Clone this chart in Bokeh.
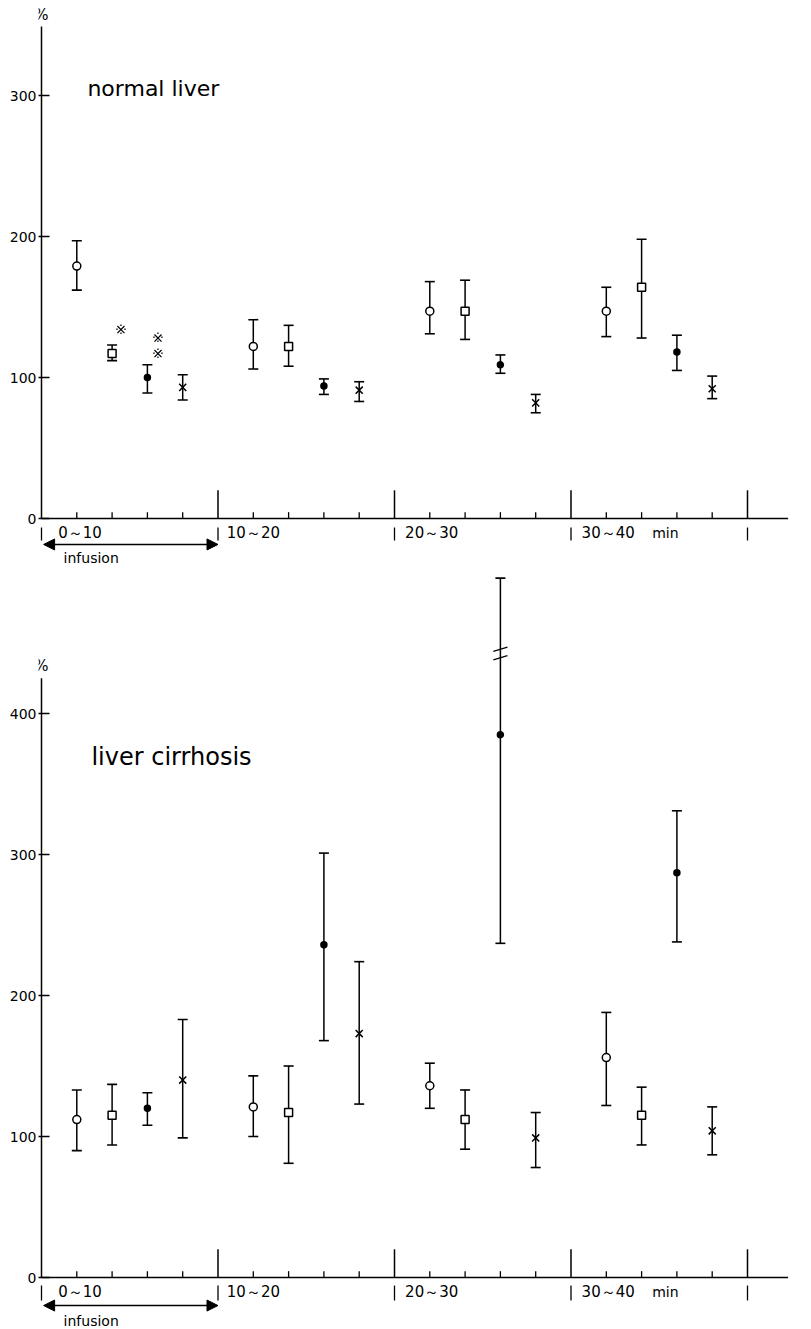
from bokeh.plotting import figure
from bokeh.layouts import column
from bokeh.models import FixedTicker, Arrow, NormalHead, Label
from bokeh.core.properties import value
from bokeh.embed import file_html
from bokeh.resources import INLINE

# ---------------- data ----------------
min_circle = [2, 12, 22, 32]
min_square = [4, 14, 24, 34]
min_dot = [6, 16, 26, 36]
min_cross = [8, 18, 28, 38]

# normal liver
n_circle = [179, 122, 147, 147]
n_circle_hi = [197, 141, 168, 164]
n_circle_lo = [162, 106, 131, 129]
n_square = [117, 122, 147, 164]
n_square_hi = [123, 137, 169, 198]
n_square_lo = [112, 108, 127, 128]
n_dot = [100, 94, 109, 118]
n_dot_hi = [109, 99, 116, 130]
n_dot_lo = [89, 88, 103, 105]
n_cross = [93, 91, 82, 92]
n_cross_hi = [102, 97, 88, 101]
n_cross_lo = [84, 83, 75, 85]

# liver cirrhosis
c_circle = [112, 121, 136, 156]
c_circle_hi = [133, 143, 152, 188]
c_circle_lo = [90, 100, 120, 122]
c_square = [115, 117, 112, 115]
c_square_hi = [137, 150, 133, 135]
c_square_lo = [94, 81, 91, 94]
c_dot = [120, 236, 385, 287]
c_dot_hi = [131, 301, 496, 331]
c_dot_lo = [108, 168, 237, 238]
c_cross = [140, 173, 99, 104]
c_cross_hi = [183, 224, 117, 121]
c_cross_lo = [99, 123, 78, 87]

period_starts = [0, 10, 20, 30, 40]
minor_ticks = [2, 4, 6, 8, 12, 14, 16, 18, 22, 24, 26, 28, 32, 34, 36, 38]
period_labels = ["0～10", "10～20", "20～30", "30～40"]
period_label_x = [0.95, 10.5, 20.6, 30.6]

# significance marks (normal liver)
sig_x = [4.5, 6.6, 6.6]
sig_y = [134, 128, 117]

FONT = "DejaVu Sans"
W = 811
PX_PER_MIN = 17.65
PX_PER_UNIT = 1.41
LEFT = 41
PAD = 3  # pixels of frame left of the value-axis line


def make_panel(height, zero_px, yticks, axis_top, title, title_xy, title_size, label_y,
               mark_y0, mark_y1, arrow_y, infusion_y, series):
    border = LEFT - PAD
    x_start = -PAD / PX_PER_MIN
    x_end = (W - LEFT) / PX_PER_MIN
    y_end = zero_px / PX_PER_UNIT
    y_start = -(height - zero_px) / PX_PER_UNIT
    p = figure(width=W, height=height, x_range=(x_start, x_end),
               y_range=(y_start, y_end), output_backend="svg",
               toolbar_location=None, min_border_left=border, min_border_right=0,
               min_border_top=0, min_border_bottom=0, x_axis_location=None)
    p.outline_line_color = None
    p.xgrid.visible = False
    p.ygrid.visible = False
    p.background_fill_color = "white"
    p.border_fill_color = "white"
    ax = p.yaxis[0]
    ax.ticker = FixedTicker(ticks=yticks)
    ax.axis_line_color = None
    ax.major_tick_in = 8 + PAD
    ax.major_tick_out = 0
    ax.major_tick_line_width = 1.5
    ax.minor_tick_line_color = None
    ax.major_label_standoff = 2
    ax.major_label_text_font = FONT
    ax.major_label_text_font_size = "14px"
    ax.major_label_text_color = "black"

    # axis lines
    p.segment(x0=[0], y0=[0], x1=[0], y1=[axis_top], line_color="black", line_width=1.5)
    p.segment(x0=[0], y0=[0], x1=[42.3], y1=[0], line_color="black", line_width=1.5)
    p.add_layout(Label(x=0, y=axis_top + 2, text="%", text_align="center",
                       text_baseline="bottom", text_font=FONT, text_font_size="15px",
                       text_color="black"))
    # minor ticks on x axis
    p.segment(x0=minor_ticks, y0=[0] * len(minor_ticks), x1=minor_ticks,
              y1=[4.5] * len(minor_ticks), line_color="black", line_width=1.3)
    # period separators
    seps = period_starts[1:]
    p.segment(x0=seps, y0=[0] * 4, x1=seps, y1=[20] * 4, line_color="black", line_width=1.5)
    p.segment(x0=period_starts, y0=[mark_y0] * 5, x1=period_starts, y1=[mark_y1] * 5,
              line_color="black", line_width=1.3)
    # period labels
    p.text(x=period_label_x, y=[label_y] * 4, text=period_labels,
           text_baseline="middle", text_font=value(FONT), text_font_size="15px",
           text_color="black")
    p.text(x=[34.6], y=[label_y], text=["min"], text_baseline="middle",
           text_font=value(FONT), text_font_size="14px", text_color="black")
    # infusion arrow
    p.add_layout(Arrow(x_start=0.12, y_start=arrow_y, x_end=10, y_end=arrow_y,
                       line_width=1.5, line_color="black",
                       start=NormalHead(size=11, fill_color="black", line_color="black"),
                       end=NormalHead(size=11, fill_color="black", line_color="black")))
    p.text(x=[1.25], y=[infusion_y], text=["infusion"], text_baseline="middle",
           text_font=value(FONT), text_font_size="14px", text_color="black")
    # title
    p.text(x=[title_xy[0]], y=[title_xy[1]], text=[title], text_baseline="alphabetic",
           text_font=value(FONT), text_font_size=title_size, text_color="black")

    for xs, ys, hi, lo, marker, size, fill in series:
        p.segment(x0=xs, y0=lo, x1=xs, y1=hi, line_color="black", line_width=1.5)
        p.scatter(x=xs + xs, y=hi + lo, marker="dash", size=10, line_color="black",
                  line_width=1.6)
        p.scatter(x=xs, y=ys, marker=marker, size=size, line_color="black",
                  fill_color=fill, line_width=1.5)
    return p


top_series = [
    (min_circle, n_circle, n_circle_hi, n_circle_lo, "circle", 8, "white"),
    (min_square, n_square, n_square_hi, n_square_lo, "square", 8, "white"),
    (min_dot, n_dot, n_dot_hi, n_dot_lo, "circle", 6, "black"),
    (min_cross, n_cross, n_cross_hi, n_cross_lo, "x", 10, None),
]
bot_series = [
    (min_circle, c_circle, c_circle_hi, c_circle_lo, "circle", 8, "white"),
    (min_square, c_square, c_square_hi, c_square_lo, "square", 8, "white"),
    (min_dot, c_dot, c_dot_hi, c_dot_lo, "circle", 6, "black"),
    (min_cross, c_cross, c_cross_hi, c_cross_lo, "x", 10, None),
]

H1 = 568
p1 = make_panel(H1, 518, [0, 100, 200, 300], 349, "normal liver", (2.6, 305), "22px",
                -10.0, -6.4, -15.6, -18.4, -28.0, top_series)
# significance marks drawn as x with four dots
p1.scatter(x=sig_x, y=sig_y, marker="x", size=10, line_color="black", line_width=1.2)
for dx, dy in [(0, 4), (0, -4), (4, 0), (-4, 0)]:
    p1.text(x=sig_x, y=sig_y, text=["·"] * 3, x_offset=dx, y_offset=-dy,
            text_align="center", text_baseline="middle", text_font=value(FONT),
            text_font_size="12px", text_color="black")

H2 = 1329 - H1
p2 = make_panel(H2, 709, [0, 100, 200, 300, 400], 425, "liver cirrhosis", (2.83, 369), "24px",
                -10.6, -5.7, -16.3, -19.9, -30.5, bot_series)
# axis break on the long bar
brk_y = [438, 444]
p2.segment(x0=[25.6, 25.6], y0=brk_y, x1=[26.4, 26.4], y1=[y + 3 for y in brk_y],
           line_color="black", line_width=1.3)

layout = column(p1, p2, spacing=0)
open("out.html", "w").write(file_html(layout, INLINE))
